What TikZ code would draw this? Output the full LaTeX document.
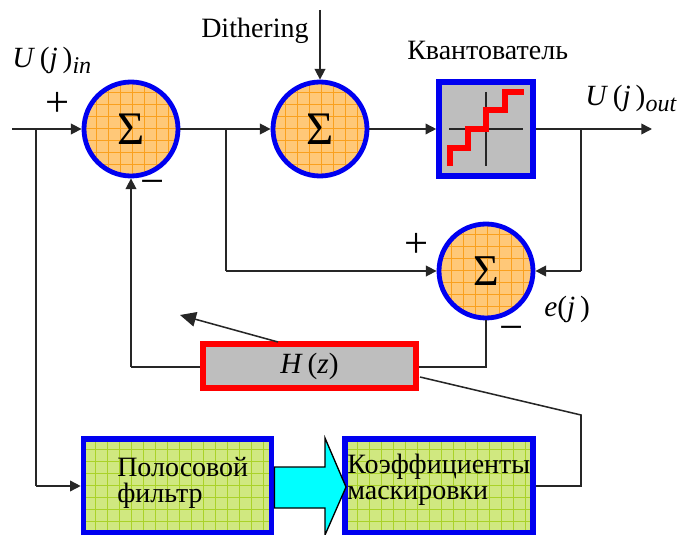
\documentclass[tikz,border=0pt]{standalone}
\usepackage{fontspec}
\setmainfont{Liberation Serif}
\usetikzlibrary{arrows.meta}
\definecolor{bluex}{RGB}{0,0,240}
\definecolor{orfill}{RGB}{255,200,120}
\definecolor{orgrid}{RGB}{250,160,30}
\definecolor{grfill}{RGB}{208,232,128}
\definecolor{grgrid}{RGB}{170,210,40}
\definecolor{greyf}{RGB}{190,190,190}
\definecolor{cyanx}{RGB}{0,255,255}
\newcommand{\subtxt}[1]{\raisebox{-4pt}{\fontsize{18}{18}\selectfont\itshape #1}}
\newcommand{\sumsym}{\raisebox{-1.5pt}{Σ}}
\tikzset{
 x=0.75pt,y=-0.75pt,
 conn/.style={draw=black!85,line width=1.15pt,-{Triangle[length=8pt,width=8pt]}},
 bigarrow/.style={draw=black!85,line width=1.15pt,-{Triangle[length=12pt,width=11pt]}},
 plainline/.style={draw=black!85,line width=1.15pt},
 sumnode/.style={circle,draw=bluex,line width=3.6pt,fill=orfill,minimum size=94*0.75pt,inner sep=0pt,font=\fontsize{35}{35}\selectfont,
   path picture={\foreach \k in {0,...,8}{
     \draw[orgrid,line width=0.5pt] ([shift={(\k*12,0)}]path picture bounding box.south west) -- ++(0,-100);
     \draw[orgrid,line width=0.5pt] ([shift={(0,-\k*12)}]path picture bounding box.south west) -- ++(100,0);}}},
 greenbox/.style={draw=bluex,line width=4.2pt,fill=grfill,minimum width=188*0.75pt,minimum height=94*0.75pt,inner sep=0pt,
   path picture={\foreach \k in {0,...,16}{
     \draw[grgrid,line width=0.45pt] ([shift={(\k*12,0)}]path picture bounding box.south west) -- ++(0,-100);}
     \foreach \k in {0,...,8}{
     \draw[grgrid,line width=0.45pt] ([shift={(0,-\k*12)}]path picture bounding box.south west) -- ++(200,0);}}},
 lbl/.style={inner sep=0pt,font=\fontsize{21}{23}\selectfont},
 mathlbl/.style={inner sep=0pt,font=\fontsize{22}{24}\selectfont},
 signlbl/.style={inner sep=0pt,font=\fontsize{32}{32}\selectfont},
 boxtxt/.style={inner sep=0pt,font=\fontsize{21}{25}\selectfont,align=left,anchor=west},
}
\begin{document}
\begin{tikzpicture}
\useasboundingbox (0,0) rectangle (682,535);
\node[sumnode] (s1) at (131,129) {\sumsym};
\node[sumnode] (s2) at (320,129) {\sumsym};
\node[sumnode,font=\fontsize{33}{33}\selectfont] (s3) at (486,271) {\sumsym};
\node[draw=bluex,line width=4.2pt,fill=greyf,minimum size=94*0.75pt,inner sep=0pt] (q) at (486,129) {};
\draw[black!85,line width=0.9pt] (449,129) -- (523,129) (486,92) -- (486,166);
\draw[red,line width=4.6pt,line join=miter] (450,166) -- (450,148) -- (468,148) -- (468,129) -- (486,129) -- (486,110) -- (505,110) -- (505,92) -- (524,92);
\node[draw=red,line width=4.2pt,fill=greyf,minimum width=213*0.75pt,minimum height=44*0.75pt,inner sep=0pt,font=\fontsize{22}{24}\selectfont] (h) at (309.5,366) {\textit{H}\,(\textit{z})};
\node[greenbox] (f) at (177.5,486) {};
\node[greenbox] (m) at (439,486) {};
\node[boxtxt] at (117,467) {Полосовой};
\node[boxtxt] at (117,496) {фильтр};
\node[boxtxt] at (347,467) {Коэффициенты};
\node[boxtxt] at (347,496) {маскировки};
\coordinate (in) at (12,129);
\coordinate (j1) at (36,129);
\coordinate (j2) at (226,129);
\coordinate (dith) at (320,10);
\coordinate (out) at (652,129);
\coordinate (j3) at (581,129);
\coordinate (j4) at (581,271);
\coordinate (c1) at (36,486);
\coordinate (c2) at (226,271);
\coordinate (c3) at (486,367);
\coordinate (c4) at (131,367);
\coordinate (d1) at (278,342);
\coordinate (d2) at (180,315);
\coordinate (e1) at (420,377);
\coordinate (e2) at (581,415);
\coordinate (e3) at (581,486);
\draw[conn] (in) -- (s1);
\draw[plainline] (j1) -- (c1);
\draw[conn] (c1) -- (f.west);
\draw[conn] (s1) -- (s2);
\draw[plainline] (j2) -- (c2);
\draw[conn] (c2) -- (s3.west);
\draw[conn] (dith) -- (s2.north);
\draw[conn] (s2) -- (q);
\draw[conn] (q) -- (out);
\draw[plainline] (j3) -- (j4);
\draw[conn] (j4) -- (s3.east);
\draw[plainline] (s3.south) -- (c3) -- (h.east |- c3);
\draw[plainline] (h.west |- c4) -- (c4);
\draw[conn] (c4) -- (s1.south);
\draw[bigarrow] (d1) -- (d2);
\draw[plainline] (e1) -- (e2) -- (e3) -- (m.east |- e3);
\draw[draw=black,line width=1pt,fill=cyanx] (274.5,467) -- (325,467) -- (325,438) -- (346,487) -- (325,535) -- (325,508) -- (274.5,508) -- cycle;
\node[lbl,anchor=base west] at (201,38) {Dithering};
\node[lbl,anchor=base west] at (407,60) {Квантователь};
\node[mathlbl,anchor=base west] at (12,68) {\textit{U}\,(\textit{j}\,)\subtxt{in}};
\node[mathlbl,anchor=base west] at (585,106) {\textit{U}\,(\textit{j}\,)\subtxt{out}};
\node[mathlbl,anchor=base west] at (544,316) {\textit{e}(\textit{j}\,)};
\node[signlbl] at (58,104) {+};
\node[signlbl] at (417,245) {+};
\node[signlbl] at (153,188) {−};
\node[signlbl] at (512,334) {−};
\end{tikzpicture}
\end{document}
